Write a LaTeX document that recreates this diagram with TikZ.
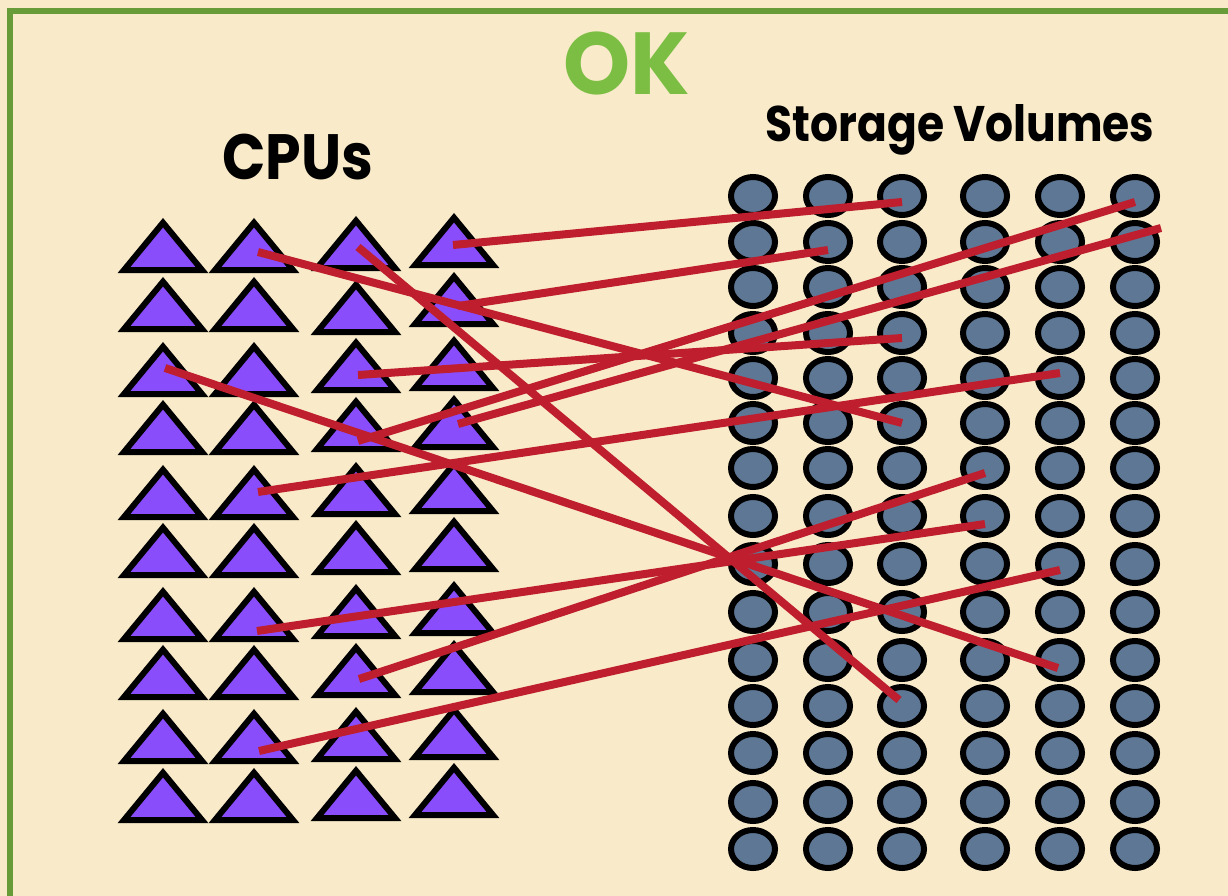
\documentclass[tikz,border=0pt]{standalone}
\usepackage{fontspec}
\setmainfont{Poppins}
\usetikzlibrary{shapes.geometric}

\definecolor{paper}{HTML}{F9EBC9}
\definecolor{frame}{HTML}{679C38}
\definecolor{okgreen}{HTML}{7BBE43}
\definecolor{cpufill}{HTML}{8A4DFC}
\definecolor{volfill}{HTML}{5E7795}
\definecolor{link}{HTML}{BE1E2D}

\begin{document}
\begin{tikzpicture}[x=1pt,y=-1pt,
  cpu/.style={draw=black,fill=cpufill,line width=6pt,miter limit=10},
  vol/.style={ellipse,draw=black,fill=volfill,line width=6pt,
    minimum width=44pt,minimum height=38pt,inner sep=0pt},
  wire/.style={draw=link,line width=8pt},
  heading/.style={anchor=base,inner sep=0pt}]

\useasboundingbox (0,0) rectangle (1228,896);
\clip (0,0) rectangle (1228,896);
\fill[paper] (0,0) rectangle (1228,896);
\draw[frame,line width=6pt] (10,920) |- (1250,11);

% headings
\node[heading,text=okgreen,font=\bfseries\fontsize{88}{88}\selectfont] (title) at (627,95) {\scalebox{0.97}[1]{OK}};
\node[heading,font=\bfseries\fontsize{64}{64}\selectfont] (cpus) at (298,180) {\scalebox{0.89}[1]{CPUs}};
\node[heading,font=\bfseries\fontsize{50}{50}\selectfont] (vols) at (960,142) {\scalebox{0.88}[1]{Storage Volumes}};

% CPU triangles: column x / apex heights
\foreach \x/\ys [count=\c] in {
  163/{218,277,342,400,465,523,587,645,709,768},
  254/{218,277,342,400,465,523,587,645,709,768},
  356/{216,280,338,397,462,520,584,643,707,766},
  454/{213,272,336,395,459,517,581,640,705,763}} {
  \foreach \a [count=\r] in \ys {
    \draw[cpu] (\x,\a+4.7) -- (\x+39,\a+52) -- (\x-39,\a+52) -- cycle;
    \coordinate (t-\c-\r) at (\x,\a+36);
  }
}

% storage volumes
\foreach \x [count=\c] in {753,828,902,985,1060,1135} {
  \foreach \y [count=\r] in {196,242,287,333,378,423,468,516,564,612,660,706,753,802,849} {
    \node[vol] (s-\c-\r) at (\x,\y) {};
  }
}

% link end points
\coordinate (p-2-1) at (258,252);  \coordinate (q-3-6)  at (902,423);
\coordinate (p-3-1) at (358,247);  \coordinate (q-3-12) at (899,700);
\coordinate (p-4-1) at (453,245);  \coordinate (q-3-1)  at (902,202);
\coordinate (p-4-2) at (458,306);  \coordinate (q-2-2)  at (828,250);
\coordinate (p-3-3) at (358,375);  \coordinate (q-3-4)  at (902,338);
\coordinate (p-1-3) at (165,368);  \coordinate (q-5-11) at (1058,668);
\coordinate (p-3-4) at (358,441);  \coordinate (q-6-1)  at (1135,202);
\coordinate (p-4-4) at (458,424);  \coordinate (q-6-2)  at (1161,228);
\coordinate (p-2-5) at (258,492);  \coordinate (q-5-5)  at (1060,373);
\coordinate (p-2-7) at (257,631);  \coordinate (q-4-8)  at (985,524);
\coordinate (p-3-8) at (359,679);  \coordinate (q-4-7)  at (985,473);
\coordinate (p-2-9) at (259,751);  \coordinate (q-5-9)  at (1060,570);

% links
\draw[wire] (p-2-1) -- (q-3-6);
\draw[wire] (p-3-1) -- (q-3-12);
\draw[wire] (p-4-1) -- (q-3-1);
\draw[wire] (p-4-2) -- (q-2-2);
\draw[wire] (p-3-3) -- (q-3-4);
\draw[wire] (p-1-3) -- (q-5-11);
\draw[wire] (p-3-4) -- (q-6-1);
\draw[wire] (p-4-4) -- (q-6-2);
\draw[wire] (p-2-5) -- (q-5-5);
\draw[wire] (p-2-7) -- (q-4-8);
\draw[wire] (p-3-8) -- (q-4-7);
\draw[wire] (p-2-9) -- (q-5-9);
\end{tikzpicture}
\end{document}
